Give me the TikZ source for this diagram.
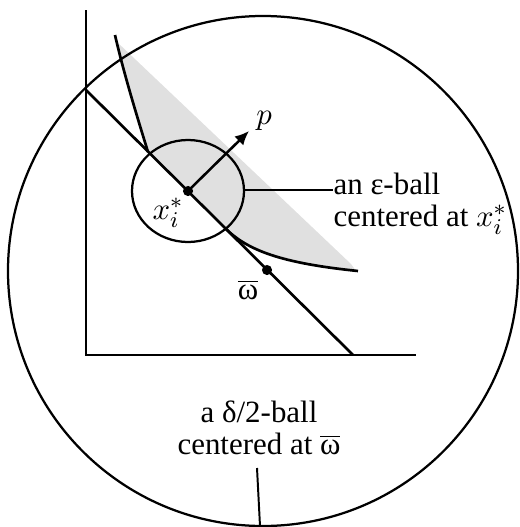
\documentclass[tikz,border=0pt]{standalone}
\usepackage{fontspec}
\setmainfont{Liberation Serif}
\usetikzlibrary{arrows.meta}
\tikzset{
  axis/.style={line width=0.85pt},
  crv/.style={line width=0.95pt},
  ball/.style={line width=0.8pt},
  lead/.style={line width=0.7pt},
  dot/.style={circle, fill=black, inner sep=0pt, minimum size=3.6pt},
  lbl/.style={font=\fontsize{11}{11.4}\selectfont, inner sep=0pt},
  arr/.style={-{Latex[length=5pt,width=4.5pt]}, line width=0.9pt}}
\begin{document}
\begin{tikzpicture}[x=0.0125cm, y=-0.0125cm]
  \useasboundingbox (0,0) rectangle (519,527);
  % better set (shaded)
  \fill[gray!24] (117,42) -- (351,264) -- (356,271)
    .. controls (280,263) and (247,250) .. (225,228) -- (148,152)
    .. controls (135,110) and (123,70) .. (117,42) -- cycle;
  % axes and budget line
  \coordinate (ytop) at (86,10);
  \coordinate (O) at (86,355);
  \coordinate (xend) at (416,355);
  \coordinate (bl1) at (86,90);
  \coordinate (bl2) at (353,355);
  \draw[axis] (ytop) -- (O) -- (xend);
  \draw[crv] (bl1) -- (bl2);
  % indifference curve, split by the ball
  \coordinate (ic1) at (115,35);
  \coordinate (ic2) at (148,152);
  \coordinate (ic3) at (225,228);
  \coordinate (ic4) at (358,271);
  \draw[crv] (ic1) .. controls (123,70) and (135,110) .. (ic2);
  \draw[crv] (ic3) .. controls (247,250) and (280,263) .. (ic4);
  % points
  \node[dot] (xstar) at (188,191) {};
  \node[dot] (wbar) at (267,270) {};
  % balls
  \draw[ball] (xstar) ellipse [x radius=56, y radius=51];
  \coordinate (bigc) at (263,271);
  \draw[ball] (bigc) circle [radius=255];
  % price vector
  \coordinate (ptip) at (249,131);
  \draw[arr] (xstar.center) -- (ptip);
  \node[lbl] (plbl) at (264,121) {$p$};
  \node[lbl] (xlbl) at (168,213) {$x_i^*$};
  \node[lbl] (wlbl) at (248,290) {$\overline{\mbox{ω}}$};
  % labels with leaders
  \node[lbl, anchor=west, align=left] (epslbl) at (333,204) {an ε-ball\\centered at $x_i^*$};
  \coordinate (ballE) at (244,190);
  \draw[lead] (ballE) -- (ballE -| epslbl.west);
  \node[lbl, align=center] (dltlbl) at (259,428) {a δ/2-ball\\centered at $\overline{\mbox{ω}}$};
  \coordinate (dlt1) at (257,468);
  \coordinate (bigS) at (260,526);
  \draw[lead] (dlt1) -- (bigS);
\end{tikzpicture}
\end{document}
